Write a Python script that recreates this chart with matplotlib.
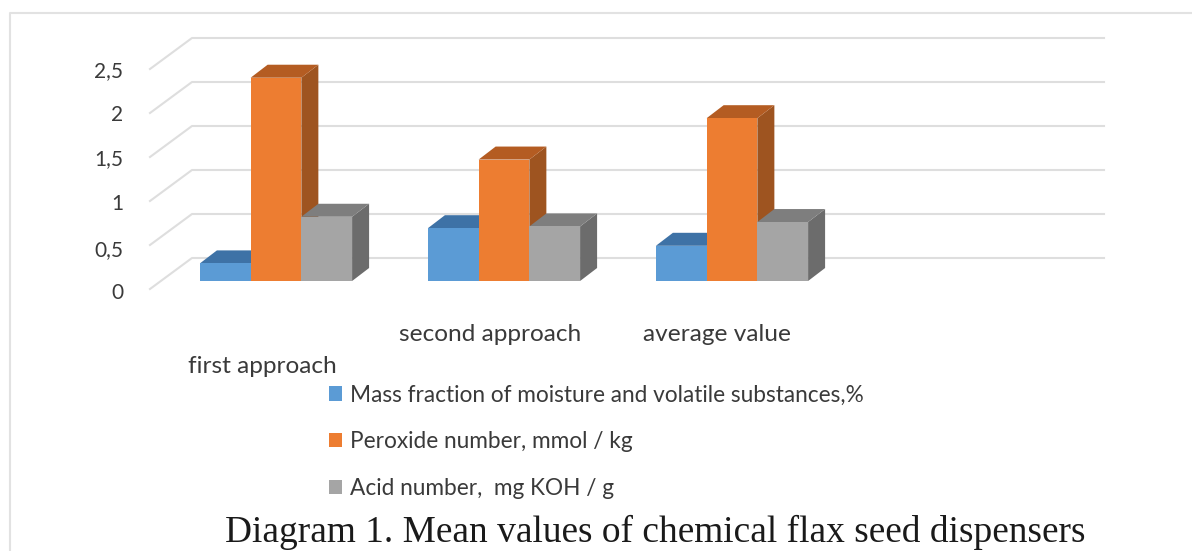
import matplotlib
matplotlib.use("Agg")
import matplotlib.pyplot as plt
from matplotlib.lines import Line2D
from matplotlib.patches import Patch
from matplotlib.transforms import Affine2D

categories = ["first approach", "second approach", "average value"]
moisture = [0.2, 0.6, 0.4]
peroxide = [2.31, 1.38, 1.85]
acid = [0.73, 0.62, 0.67]
series_names = ["Mass fraction of moisture and volatile substances,%",
                "Peroxide number, mmol / kg",
                "Acid number,  mg KOH / g"]
y_ticks = [0, 0.5, 1, 1.5, 2, 2.5]
y_labels = ["0", "0,5", "1", "1,5", "2", "2,5"]
title = "Diagram 1. Mean values of chemical flax seed dispensers"

W, H = 1192, 551
fig = plt.figure(figsize=(W / 100, H / 100), dpi=100, facecolor="white")
plt.rcParams["font.family"] = ["Lato", "DejaVu Sans"]

# plot plane: x pixels 162..1074, value 0 at y=281, 88 px per unit
ax = fig.add_axes([162 / W, 1 - 281 / H, 912 / W, 220 / H])
ax.set_xlim(-0.5, 3.5)
ax.set_ylim(0, 2.5)
ax.patch.set_alpha(0)
for s in ax.spines.values():
    s.set_visible(False)

UX, UY = 228.0, 88.0      # pixels per data unit
GRID = "#DEDEDE"
GLW = 1.5

# wall grid
for v in y_ticks:
    bx, by = 30 / UX, 23 / UY
    fx, fy = -12 / UX, -8 / UY
    ax.plot([-0.5 + fx, -0.5 + bx, 3.5 + bx], [v + fy, v + by, v + by],
            color=GRID, lw=GLW, clip_on=False, zorder=1, solid_joinstyle="round")

bar_w = 0.2225
dx, dy = 17 / UX, 13 / UY
styles = [("#5B9BD5", "#3E72A6", "#3E72A6"),
          ("#ED7D31", "#B45C22", "#9E5420"),
          ("#A5A5A5", "#7E7E7E", "#6C6C6C")]
series = [moisture, peroxide, acid]
z = 2
for i in range(len(categories)):
    for j, vals in enumerate(series):
        x0 = i + (j - 1.5) * bar_w
        x1 = x0 + bar_w
        v = vals[i]
        front, top, side = styles[j]
        ax.fill([x1, x1 + dx, x1 + dx, x1], [0, dy, v + dy, v],
                color=side, lw=0, clip_on=False, zorder=z)
        ax.fill([x0, x0 + dx, x1 + dx, x1], [v, v + dy, v + dy, v],
                color=top, lw=0, clip_on=False, zorder=z + 1)
        ax.bar(x0, v, width=bar_w, align="edge", color=front, lw=0,
               clip_on=False, zorder=z + 2)
        z += 3

TXT = "#3A3A3A"
ax.set_yticks(y_ticks)
ax.set_yticklabels(y_labels, fontsize=15, color=TXT)
ax.tick_params(axis="y", length=0, pad=28)
for lab, sy in zip(ax.get_yticklabels(), [-10, -11, -9, -8, -8, -8]):
    lab.set_transform(lab.get_transform() + Affine2D().translate(0, sy))

ax.set_xticks(range(len(categories)))
ax.set_xticklabels(categories, fontsize=17.6, color=TXT)
ax.tick_params(axis="x", length=0, pad=0)
shifts = [(-14, -75), (-14, -43), (-15, -43)]
for lab, (sx, sy) in zip(ax.get_xticklabels(), shifts):
    lab.set_transform(lab.get_transform() + Affine2D().translate(sx, sy))

handles = [Patch(facecolor=s[0], edgecolor="none") for s in styles]
leg = fig.legend(handles, series_names, loc="upper left",
                 bbox_to_anchor=(324 / W, 1 - 380 / H), frameon=False,
                 fontsize=16.3, labelcolor=TXT, handlelength=0.58, handleheight=0.58,
                 handletextpad=0.35, labelspacing=1.13, borderpad=0.2, borderaxespad=0)

fig.text(655 / W, 1 - 542.5 / H, title, family="Liberation Serif", fontsize=26.95,
         color="#1A1A1A", ha="center", va="baseline")

# frame of the picture
fig.add_artist(Line2D([10 / W, 10 / W, 1], [0, 1 - 13 / H, 1 - 13 / H],
                      color="#E2E2E2", lw=1.5))

fig.savefig("out.png", dpi=100, facecolor="white")
